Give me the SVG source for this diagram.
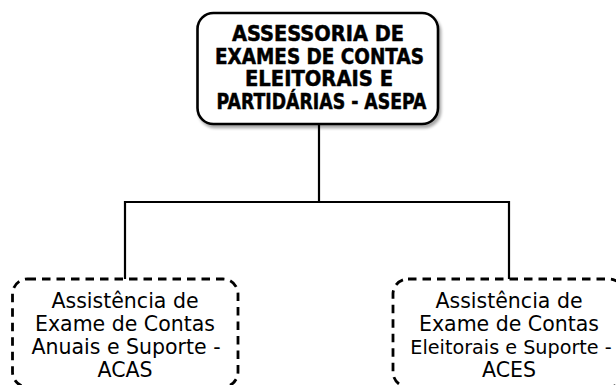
<svg xmlns="http://www.w3.org/2000/svg" width="616" height="385" viewBox="0 0 616 385">
  <style>
    .title { font-family: "DejaVu Sans", Verdana, sans-serif; font-weight: bold; font-size: 21px; fill: #000; stroke: #000; stroke-width: 0.5; text-anchor: middle; }
    .sub { font-family: "DejaVu Sans", Verdana, sans-serif; font-size: 20.5px; fill: #000; text-anchor: middle; }
    .conn { fill: none; stroke: #000; stroke-width: 2.2; }
    .dashbox { fill: #fff; stroke: #000; stroke-width: 2.8; stroke-dasharray: 8.5 6; }
    .mainbox { fill: #fff; stroke: #000; stroke-width: 2.6; }
  </style>
  <defs>
    <filter id="shadow" x="-10%" y="-10%" width="130%" height="130%">
      <feGaussianBlur in="SourceAlpha" stdDeviation="1.5"/>
      <feOffset dx="2" dy="3" result="b"/>
      <feComponentTransfer><feFuncA type="linear" slope="0.35"/></feComponentTransfer>
      <feMerge><feMergeNode/><feMergeNode in="SourceGraphic"/></feMerge>
    </filter>
  </defs>
  <rect width="616" height="385" fill="#fff"/>
  <g id="connectors">
    <path class="conn" d="M319 124 V202 M125 279 V202 H509 V279"/>
  </g>
  <g id="asepa">
    <rect class="mainbox" x="197.5" y="13" width="240.5" height="111" rx="16" filter="url(#shadow)"/>
    <text class="title" x="318" y="40.8" textLength="172" lengthAdjust="spacingAndGlyphs">ASSESSORIA DE</text>
    <text class="title" x="319.5" y="63.5" textLength="209" lengthAdjust="spacingAndGlyphs">EXAMES DE CONTAS</text>
    <text class="title" x="319" y="86.2" textLength="148" lengthAdjust="spacingAndGlyphs">ELEITORAIS E</text>
    <text class="title" x="321.5" y="109" textLength="210" lengthAdjust="spacingAndGlyphs">PARTIDÁRIAS - ASEPA</text>
  </g>
  <g id="acas">
    <rect class="dashbox" x="12.5" y="279" width="225.5" height="108" rx="15"/>
    <text class="sub" x="125" y="307.5">Assistência de</text>
    <text class="sub" x="125" y="330.8">Exame de Contas</text>
    <text class="sub" x="126" y="354">Anuais e Suporte -</text>
    <text class="sub" x="125" y="377">ACAS</text>
  </g>
  <g id="aces">
    <rect class="dashbox" x="393" y="279" width="231" height="108" rx="15"/>
    <text class="sub" x="509" y="307.5">Assistência de</text>
    <text class="sub" x="509" y="330.8">Exame de Contas</text>
    <text class="sub" x="511" y="354" style="font-size:19.2px">Eleitorais e Suporte -</text>
    <text class="sub" x="509" y="377">ACES</text>
  </g>
</svg>
